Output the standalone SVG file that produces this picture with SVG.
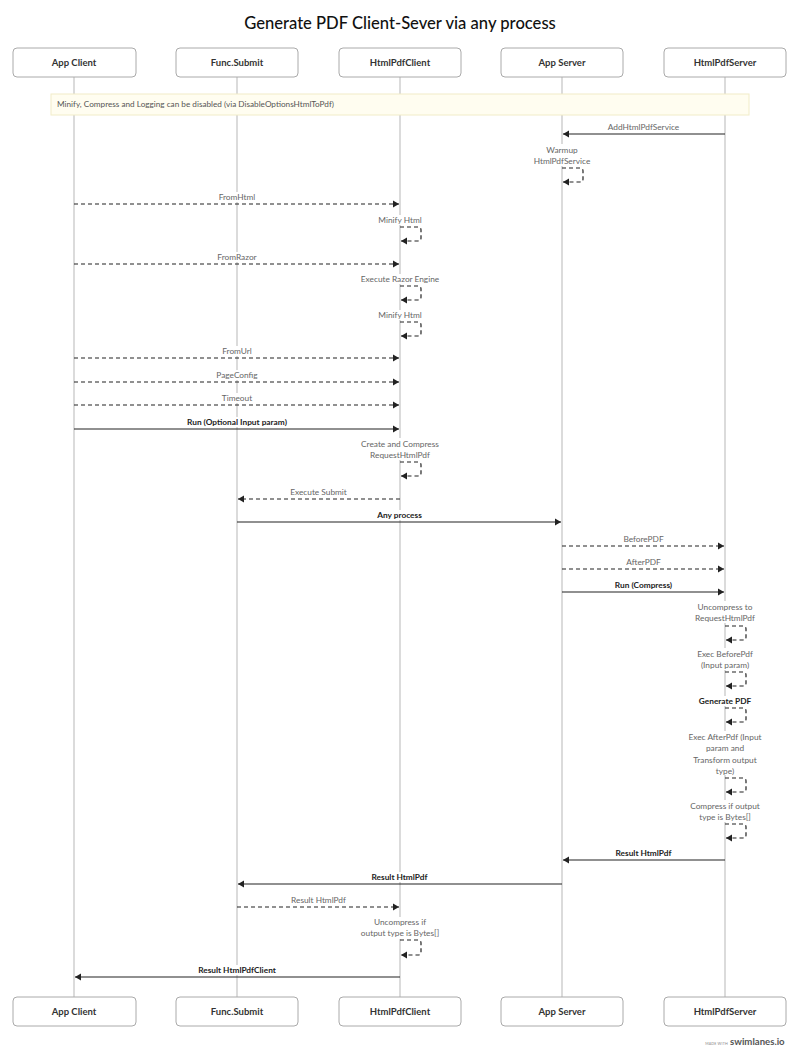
<svg xmlns="http://www.w3.org/2000/svg" width="800" height="1063" viewBox="0 0 800 1063">
<style>
text{font-family:Lato,"Source Sans Pro","Noto Sans","Liberation Sans",sans-serif}
.title{font-size:16.6px;fill:#111;text-anchor:middle;font-weight:500}
.box{fill:#fff;stroke:#aaa;stroke-width:1}
.head{font-size:9.5px;font-weight:bold;fill:#333;text-anchor:middle}
.life{stroke:#c8c8c8;stroke-width:1.3}
.note{fill:#fffdf0;stroke:#f1ecc8;stroke-width:1}
.notet{font-size:8.2px;fill:#555}
.lbl{font-size:8.3px;fill:#666;text-anchor:middle}
.b{font-weight:bold;fill:#222}
.bg{fill:#fff}
.solid{stroke:#222;stroke-width:1.2;fill:none;marker-end:url(#ah)}
.dash{stroke:#222;stroke-width:1.2;fill:none;stroke-dasharray:4 3;marker-end:url(#ah)}
</style>
<defs>
<marker id="ah" markerUnits="userSpaceOnUse" markerWidth="7" markerHeight="8" refX="6" refY="4" orient="auto">
<path d="M0,0.5 L6,4 L0,7.5 z" fill="#222"/>
</marker>
</defs>
<rect width="800" height="1063" fill="#fff"/>
<text class="title" x="400" y="29">Generate PDF Client-Sever via any process</text>

<g id="lifelines">
<line class="life" x1="74" y1="77" x2="74" y2="997"/>
<line class="life" x1="237" y1="77" x2="237" y2="997"/>
<line class="life" x1="400" y1="77" x2="400" y2="997"/>
<line class="life" x1="562" y1="77" x2="562" y2="997"/>
<line class="life" x1="725" y1="77" x2="725" y2="997"/>
</g>

<g id="node-app-client">
<rect class="box" x="13" y="48" width="123" height="29" rx="4"/>
<text class="head" x="74" y="66">App Client</text>
<rect class="box" x="13" y="997" width="123" height="29" rx="4"/>
<text class="head" x="74" y="1015">App Client</text>
</g>
<g id="node-func-submit">
<rect class="box" x="176" y="48" width="122" height="29" rx="4"/>
<text class="head" x="237" y="66">Func.Submit</text>
<rect class="box" x="176" y="997" width="122" height="29" rx="4"/>
<text class="head" x="237" y="1015">Func.Submit</text>
</g>
<g id="node-htmlpdfclient">
<rect class="box" x="339" y="48" width="122" height="29" rx="4"/>
<text class="head" x="400" y="66">HtmlPdfClient</text>
<rect class="box" x="339" y="997" width="122" height="29" rx="4"/>
<text class="head" x="400" y="1015">HtmlPdfClient</text>
</g>
<g id="node-app-server">
<rect class="box" x="501" y="48" width="122" height="29" rx="4"/>
<text class="head" x="562" y="66">App Server</text>
<rect class="box" x="501" y="997" width="122" height="29" rx="4"/>
<text class="head" x="562" y="1015">App Server</text>
</g>
<g id="node-htmlpdfserver">
<rect class="box" x="664" y="48" width="122" height="29" rx="4"/>
<text class="head" x="725" y="66">HtmlPdfServer</text>
<rect class="box" x="664" y="997" width="122" height="29" rx="4"/>
<text class="head" x="725" y="1015">HtmlPdfServer</text>
</g>

<g id="note">
<rect class="note" x="51" y="94" width="698" height="21"/>
<text class="notet" x="57" y="107">Minify, Compress and Logging can be disabled (via DisableOptionsHtmlToPdf)</text>
</g>

<g id="connectors">
<!-- AddHtmlPdfService -->
<path class="solid" d="M725,134 H563"/>
<rect class="bg" x="606" y="122" width="76" height="10"/>
<text class="lbl" x="643.5" y="130">AddHtmlPdfService</text>
<!-- Warmup -->
<rect class="bg" x="530" y="144" width="64" height="22"/>
<text class="lbl" x="562" y="153">Warmup</text>
<text class="lbl" x="562" y="164">HtmlPdfService</text>
<path class="dash" d="M562,168 H580 Q583,168 583,171 V179 Q583,182 580,182 H563"/>
<!-- FromHtml -->
<path class="dash" d="M74,204 H399"/>
<rect class="bg" x="217" y="192" width="40" height="10"/>
<text class="lbl" x="237" y="200">FromHtml</text>
<!-- Minify Html -->
<rect class="bg" x="376" y="215" width="48" height="10"/>
<text class="lbl" x="400" y="223">Minify Html</text>
<path class="dash" d="M400,227 H418 Q421,227 421,230 V238 Q421,241 418,241 H401"/>
<!-- FromRazor -->
<path class="dash" d="M74,264 H399"/>
<rect class="bg" x="215" y="252" width="44" height="10"/>
<text class="lbl" x="237" y="260">FromRazor</text>
<!-- Execute Razor Engine -->
<rect class="bg" x="357" y="274" width="86" height="10"/>
<text class="lbl" x="400" y="282">Execute Razor Engine</text>
<path class="dash" d="M400,286 H418 Q421,286 421,289 V297 Q421,300 418,300 H401"/>
<!-- Minify Html -->
<rect class="bg" x="376" y="310" width="48" height="10"/>
<text class="lbl" x="400" y="318">Minify Html</text>
<path class="dash" d="M400,322 H418 Q421,322 421,325 V333 Q421,336 418,336 H401"/>
<!-- FromUrl -->
<path class="dash" d="M74,358 H399"/>
<rect class="bg" x="220" y="346" width="34" height="10"/>
<text class="lbl" x="237" y="354">FromUrl</text>
<!-- PageConfig -->
<path class="dash" d="M74,382 H399"/>
<rect class="bg" x="214" y="370" width="46" height="10"/>
<text class="lbl" x="237" y="378">PageConfig</text>
<!-- Timeout -->
<path class="dash" d="M74,405 H399"/>
<rect class="bg" x="219" y="393" width="36" height="10"/>
<text class="lbl" x="237" y="401">Timeout</text>
<!-- Run (Optional Input param) -->
<path class="solid" d="M74,429 H399"/>
<rect class="bg" x="180" y="417" width="114" height="10"/>
<text class="lbl b" x="237" y="425">Run (Optional Input param)</text>
<!-- Create and Compress -->
<rect class="bg" x="358" y="438" width="84" height="22"/>
<text class="lbl" x="400" y="447">Create and Compress</text>
<text class="lbl" x="400" y="458">RequestHtmlPdf</text>
<path class="dash" d="M400,462 H418 Q421,462 421,465 V473 Q421,476 418,476 H401"/>
<!-- Execute Submit -->
<path class="dash" d="M400,499 H238"/>
<rect class="bg" x="288" y="487" width="61" height="10"/>
<text class="lbl" x="318.5" y="495">Execute Submit</text>
<!-- Any process -->
<path class="solid" d="M237,522 H561"/>
<rect class="bg" x="374" y="510" width="51" height="10"/>
<text class="lbl b" x="399.5" y="518">Any process</text>
<!-- BeforePDF -->
<path class="dash" d="M562,546 H724"/>
<rect class="bg" x="622" y="534" width="43" height="10"/>
<text class="lbl" x="643.5" y="542">BeforePDF</text>
<!-- AfterPDF -->
<path class="dash" d="M562,569 H724"/>
<rect class="bg" x="624" y="557" width="39" height="10"/>
<text class="lbl" x="643.5" y="565">AfterPDF</text>
<!-- Run (Compress) -->
<path class="solid" d="M562,592 H724"/>
<rect class="bg" x="612" y="580" width="63" height="10"/>
<text class="lbl b" x="643.5" y="588">Run (Compress)</text>
<!-- Uncompress to -->
<rect class="bg" x="692" y="601" width="66" height="22"/>
<text class="lbl" x="725" y="610">Uncompress to</text>
<text class="lbl" x="725" y="621">RequestHtmlPdf</text>
<path class="dash" d="M725,626 H743 Q746,626 746,629 V637 Q746,640 743,640 H726"/>
<!-- Exec BeforePdf -->
<rect class="bg" x="694" y="648" width="62" height="22"/>
<text class="lbl" x="725" y="657">Exec BeforePdf</text>
<text class="lbl" x="725" y="668">(Input param)</text>
<path class="dash" d="M725,672 H743 Q746,672 746,675 V683 Q746,686 743,686 H726"/>
<!-- Generate PDF -->
<rect class="bg" x="697" y="696" width="56" height="10"/>
<text class="lbl b" x="725" y="704">Generate PDF</text>
<path class="dash" d="M725,708 H743 Q746,708 746,711 V719 Q746,722 743,722 H726"/>
<!-- Exec AfterPdf -->
<rect class="bg" x="683" y="731" width="84" height="44"/>
<text class="lbl" x="725" y="740">Exec AfterPdf (Input</text>
<text class="lbl" x="725" y="751.3">param and</text>
<text class="lbl" x="725" y="762.6">Transform output</text>
<text class="lbl" x="725" y="774">type)</text>
<path class="dash" d="M725,778 H743 Q746,778 746,781 V789 Q746,792 743,792 H726"/>
<!-- Compress if output -->
<rect class="bg" x="686" y="800" width="78" height="22"/>
<text class="lbl" x="725" y="809">Compress if output</text>
<text class="lbl" x="725" y="820">type is Bytes[]</text>
<path class="dash" d="M725,824 H743 Q746,824 746,827 V835 Q746,838 743,838 H726"/>
<!-- Result HtmlPdf -->
<path class="solid" d="M725,860 H563"/>
<rect class="bg" x="612" y="848" width="63" height="10"/>
<text class="lbl b" x="643.5" y="856">Result HtmlPdf</text>
<!-- Result HtmlPdf -->
<path class="solid" d="M562,884 H238"/>
<rect class="bg" x="368" y="872" width="63" height="10"/>
<text class="lbl b" x="399.5" y="880">Result HtmlPdf</text>
<!-- Result HtmlPdf dashed -->
<path class="dash" d="M237,907 H399"/>
<rect class="bg" x="287" y="895" width="63" height="10"/>
<text class="lbl" x="318.5" y="903">Result HtmlPdf</text>
<!-- Uncompress if -->
<rect class="bg" x="354" y="917" width="92" height="22"/>
<text class="lbl" x="400" y="925">Uncompress if</text>
<text class="lbl" x="400" y="936">output type is Bytes[]</text>
<path class="dash" d="M400,940 H418 Q421,940 421,943 V952 Q421,955 418,955 H401"/>
<!-- Result HtmlPdfClient -->
<path class="solid" d="M400,977 H75"/>
<rect class="bg" x="193" y="965" width="88" height="10"/>
<text class="lbl b" x="237" y="973">Result HtmlPdfClient</text>
</g>

<g id="footer">
<text x="728" y="1045" font-size="3.6" fill="#888" text-anchor="end" style="letter-spacing:0.2px">MADE WITH</text>
<text x="730" y="1045" font-size="9.6" fill="#555" font-weight="bold">swimlanes.io</text>
</g>
</svg>
